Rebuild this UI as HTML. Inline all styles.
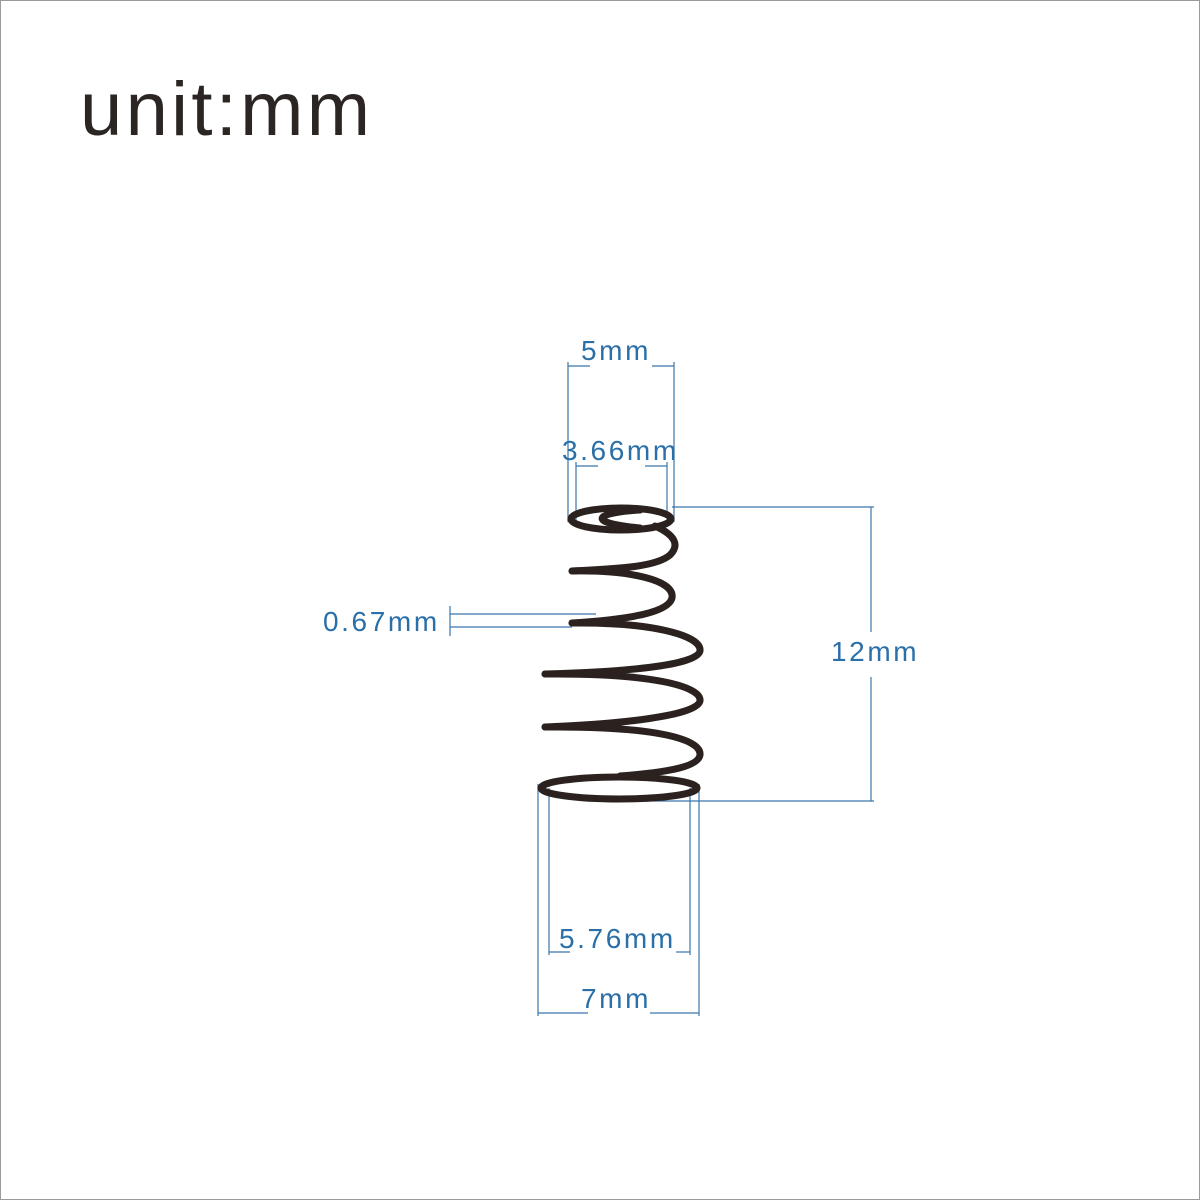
<!DOCTYPE html>
<html><head><meta charset="utf-8"><style>
html,body{margin:0;padding:0;background:#fff;}
svg{display:block;}
</style></head><body>
<svg width="1200" height="1200" viewBox="0 0 1200 1200" xmlns="http://www.w3.org/2000/svg">
<rect x="0.5" y="0.5" width="1199" height="1199" fill="#fff" stroke="#9a9a9a" stroke-width="1"/>
<text x="80" y="135" font-family="Liberation Sans, sans-serif" font-size="76" fill="#2b2523" letter-spacing="3.3">unit:mm</text>

<g stroke="#3a76aa" stroke-width="1.2" fill="none">
  <line x1="568" y1="362" x2="568" y2="522"/>
  <line x1="674" y1="362" x2="674" y2="522"/>
  <line x1="568" y1="366" x2="590" y2="366"/>
  <line x1="652" y1="366" x2="674" y2="366"/>
  <line x1="576" y1="462" x2="576" y2="522"/>
  <line x1="667" y1="462" x2="667" y2="522"/>
  <line x1="576" y1="466" x2="598" y2="466"/>
  <line x1="645" y1="466" x2="667" y2="466"/>
  <line x1="672" y1="507" x2="874" y2="507"/>
  <line x1="635" y1="801" x2="874" y2="801"/>
  <line x1="871" y1="507" x2="871" y2="632"/>
  <line x1="871" y1="677" x2="871" y2="801"/>
  <line x1="450" y1="614" x2="596" y2="614"/>
  <line x1="450" y1="627" x2="572" y2="627"/>
  <line x1="450" y1="606" x2="450" y2="636"/>
  <line x1="549" y1="788" x2="549" y2="955"/>
  <line x1="690" y1="788" x2="690" y2="955"/>
  <line x1="549" y1="952" x2="570" y2="952"/>
  <line x1="676" y1="952" x2="690" y2="952"/>
  <line x1="538" y1="784" x2="538" y2="1016"/>
  <line x1="699" y1="784" x2="699" y2="1016"/>
  <line x1="538" y1="1013" x2="588" y2="1013"/>
  <line x1="650" y1="1013" x2="699" y2="1013"/>
</g>

<g fill="#2a6fa8" font-family="Liberation Sans, sans-serif" font-size="28" letter-spacing="2.6">
  <text x="581" y="360">5mm</text>
  <text x="562" y="460">3.66mm</text>
  <text x="831" y="661">12mm</text>
  <text x="323" y="631">0.67mm</text>
  <text x="559" y="948">5.76mm</text>
  <text x="581" y="1008">7mm</text>
</g>

<g stroke="#2b2220" stroke-width="7" fill="none" stroke-linecap="round">
  <ellipse cx="621" cy="519" rx="50" ry="11"/>
  <path d="M640,510 C600,512 580,522 640,528"/>
  <path d="M655,526 C675,535 680,545 670,555 C655,568 610,569 572,571"/>
  <path d="M572,571 C630,570 675,580 672,598 C668,614 620,620 572,623"/>
  <path d="M572,623 C650,622 702,635 700,651 C697,666 620,672 545,674"/>
  <path d="M545,674 C650,673 702,686 700,701 C697,716 620,724 545,727"/>
  <path d="M545,727 C650,726 702,738 700,755 C698,768 660,773 620,776"/>
  <ellipse cx="619" cy="788" rx="78" ry="11"/>
</g>
</svg>
</body></html>
